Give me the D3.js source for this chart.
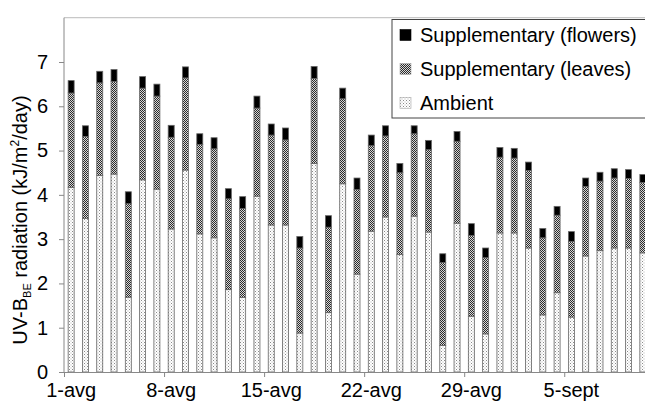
<!DOCTYPE html>
<html>
<head>
<meta charset="utf-8">
<script src="https://cdn.jsdelivr.net/npm/d3@7"></script>
<style>
  body { margin: 0; background: #fff; }
  svg { display: block; font-family: "Liberation Sans", Arial, sans-serif; }
</style>
</head>
<body>
<svg id="chart" width="645" height="401"></svg>
<script>
// day labels, 1 Aug .. 10 Sept
let days = d3.range(1, 32).map(d => d + '-avg').concat(d3.range(1, 11).map(d => d + '-sept'));
let shownDays = ['1-avg', '8-avg', '15-avg', '22-avg', '29-avg', '5-sept'];

// kJ/m2/day per day
let ambient = [4.17, 3.47, 4.44, 4.47, 1.69, 4.34, 4.13, 3.23, 4.56, 3.12,
    3.03, 1.86, 1.68, 3.97, 3.32, 3.32, 0.88, 4.71, 1.34, 4.25,
    2.21, 3.18, 3.50, 2.65, 3.52, 3.16, 0.60, 3.36, 1.26, 0.86,
    3.14, 3.14, 2.80, 1.29, 1.79, 1.24, 2.62, 2.74, 2.80, 2.80, 2.69];
let leaves = [2.13, 1.85, 2.09, 2.09, 2.11, 2.07, 2.10, 2.07, 2.08, 2.02,
    2.01, 2.05, 2.01, 1.99, 2.03, 1.92, 1.92, 1.92, 1.93, 1.92,
    1.91, 1.93, 1.83, 1.85, 1.86, 1.86, 1.87, 1.85, 1.82, 1.72,
    1.71, 1.69, 1.75, 1.74, 1.75, 1.71, 1.57, 1.57, 1.58, 1.57, 1.59];
let flowers = [0.28, 0.24, 0.26, 0.27, 0.27, 0.26, 0.27, 0.27, 0.25, 0.24,
    0.25, 0.23, 0.27, 0.27, 0.25, 0.27, 0.26, 0.27, 0.26, 0.24,
    0.26, 0.24, 0.23, 0.21, 0.18, 0.21, 0.20, 0.22, 0.27, 0.22,
    0.22, 0.22, 0.19, 0.21, 0.20, 0.22, 0.19, 0.20, 0.21, 0.20, 0.18];

let yTicks = [0, 1, 2, 3, 4, 5, 6, 7];
let seriesKeys = ['ambient', 'leaves', 'flowers'];
let legendLabels = ['Supplementary (flowers)', 'Supplementary (leaves)', 'Ambient'];

let table = days.map((d, i) => ({ day: d, ambient: ambient[i], leaves: leaves[i], flowers: flowers[i] }));

let svg = d3.select('svg#chart');
let plotLeft = 64, plotRight = 650, plotBottom = 372;

// fill patterns, roughly like the excel print ones
let defs = svg.append('defs');
let pAmb = defs.append('pattern').attr('id', 'pat-ambient')
    .attr('width', 3).attr('height', 3).attr('patternUnits', 'userSpaceOnUse');
pAmb.append('rect').attr('width', 3).attr('height', 3).attr('fill', '#fff');
pAmb.append('rect').attr('x', 0).attr('y', 0).attr('width', 1).attr('height', 1).attr('fill', '#8a8a8a');
pAmb.append('rect').attr('x', 1.5).attr('y', 1.5).attr('width', 1).attr('height', 1).attr('fill', '#b0b0b0');

let pLv = defs.append('pattern').attr('id', 'pat-leaves')
    .attr('width', 2).attr('height', 2).attr('patternUnits', 'userSpaceOnUse');
pLv.append('rect').attr('width', 2).attr('height', 2).attr('fill', '#d8d8d8');
pLv.append('rect').attr('x', 0).attr('y', 0).attr('width', 1).attr('height', 1).attr('fill', '#2a2a2a');
pLv.append('rect').attr('x', 1).attr('y', 1).attr('width', 1).attr('height', 1).attr('fill', '#2a2a2a');

let fills = { ambient: 'url(#pat-ambient)', leaves: 'url(#pat-leaves)', flowers: '#000' };

let x = d3.scaleBand().domain(days).range([plotLeft, plotRight]).paddingInner(0.58).paddingOuter(0.29);
let xDay = d3.scaleLinear().domain([0, days.length]).range([plotLeft, plotRight]);
let y = d3.scaleLinear().domain([0, 7]).range([plotBottom, 62]);

// top frame line
svg.append('line')
    .attr('x1', plotLeft).attr('x2', plotRight)
    .attr('y1', y(8)).attr('y2', y(8))
    .attr('stroke', '#c8c8c8').attr('stroke-width', 1.2);

let stacked = d3.stack().keys(seriesKeys)(table);

svg.append('g').selectAll('g')
    .data(stacked)
    .enter().append('g')
    .attr('fill', d => fills[d.key])
    .selectAll('rect')
    .data(d => d)
    .enter().append('rect')
    .attr('x', d => x(d.data.day))
    .attr('width', x.bandwidth())
    .attr('y', d => y(d[1]))
    .attr('height', d => y(d[0]) - y(d[1]))
    .attr('stroke', '#666')
    .attr('stroke-width', 0.8);

// y axis
let yAxis = svg.append('g')
    .attr('transform', `translate(${plotLeft},0)`)
    .call(d3.axisLeft(y).tickValues(yTicks).tickFormat(d3.format('d'))
        .tickSize(5).tickSizeOuter(0).tickPadding(11));
yAxis.select('.domain').attr('d', `M0,${y(8)}V${plotBottom}`);
yAxis.selectAll('path, line').attr('stroke', '#888');
yAxis.selectAll('text').attr('font-size', 20).attr('fill', '#000');
yAxis.attr('font-family', null);

// x axis: tick marks between categories, labels under the category
let xTickAxis = svg.append('g')
    .attr('transform', `translate(0,${plotBottom})`)
    .call(d3.axisBottom(xDay).tickValues(d3.range(0, days.length, 7)).tickSize(5).tickSizeOuter(0).tickFormat(''));
xTickAxis.selectAll('path, line').attr('stroke', '#888');

let xLabelAxis = svg.append('g')
    .attr('transform', `translate(0,${plotBottom})`)
    .call(d3.axisBottom(x).tickValues(shownDays).tickSize(0).tickPadding(11));
xLabelAxis.select('.domain').remove();
xLabelAxis.selectAll('text').attr('font-size', 20).attr('fill', '#000');
xLabelAxis.attr('font-family', null);

// y axis title
let yTitle = svg.append('text')
    .attr('transform', 'translate(27,220) rotate(-90)')
    .attr('text-anchor', 'middle')
    .attr('font-size', 20)
    .attr('fill', '#000');
yTitle.append('tspan').text('UV-B');
yTitle.append('tspan').attr('font-size', 11).attr('dy', 4).text('BE');
yTitle.append('tspan').attr('dy', -4).text(' radiation (kJ/m');
yTitle.append('tspan').attr('font-size', 12).attr('dy', -8).text('2');
yTitle.append('tspan').attr('dy', 8).text('/day)');

// legend
let legend = svg.append('g');
legend.append('rect')
    .attr('x', 392).attr('y', 19.5)
    .attr('width', 270).attr('height', 98.5)
    .attr('fill', '#fff').attr('stroke', '#444').attr('stroke-width', 1);

let legendKeys = seriesKeys.slice().reverse();
let rows = legend.selectAll('g.row')
    .data(legendKeys)
    .enter().append('g')
    .attr('class', 'row')
    .attr('transform', (d, i) => `translate(400,${35 + i * 34})`);

rows.append('rect')
    .attr('x', 0).attr('y', -5.5)
    .attr('width', 11).attr('height', 11)
    .attr('fill', d => fills[d])
    .attr('stroke', d => d == 'flowers' ? '#000' : '#aaa')
    .attr('stroke-width', 0.6);

rows.append('text')
    .attr('x', 20).attr('y', 7)
    .attr('font-size', 20)
    .attr('fill', '#000')
    .text((d, i) => legendLabels[i]);
</script>
</body>
</html>
